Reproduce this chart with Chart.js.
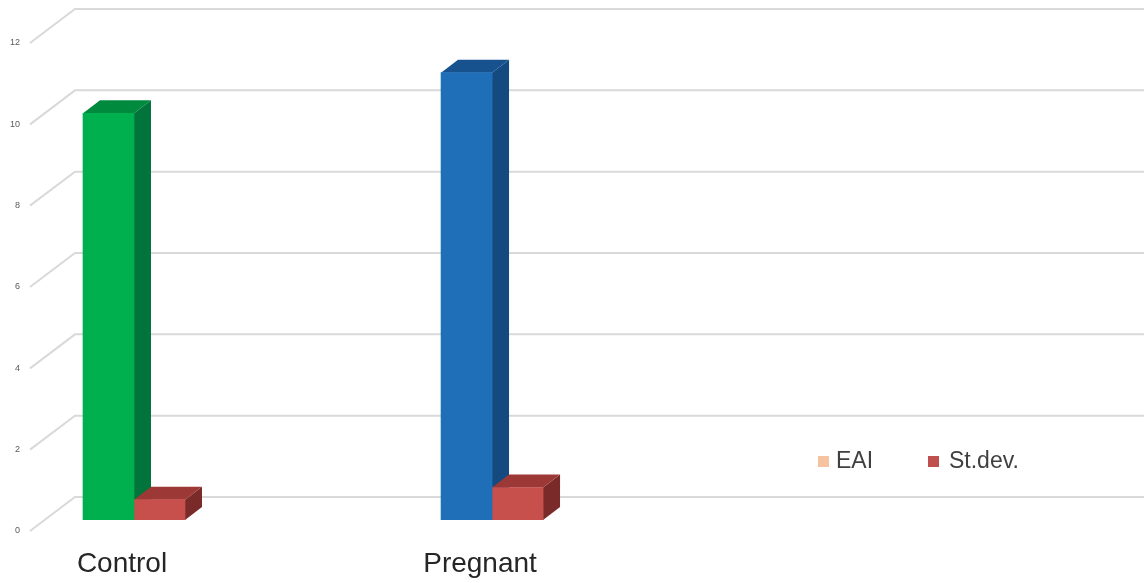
<!DOCTYPE html>
<html>
<head>
<meta charset="utf-8">
<script src="https://cdn.jsdelivr.net/npm/chart.js@4"></script>
<style>
    html, body { margin: 0; padding: 0; background: #fff; }
    canvas { display: block; }
</style>
</head>
<body>
<canvas id="chart" width="1144" height="583"></canvas>
<script>
const categories = ['Control', 'Pregnant'];
const eaiValues = [10, 11];
const stdevValues = [0.5, 0.8];
const seriesNames = ['EAI', 'St.dev.'];
const yMin = 0;
const yMax = 12;
const yStep = 2;

// bar depth and wall perspective, in pixels
const BAR_DX = 17, BAR_DY = 13;
const WALL_DX = 45, WALL_FRONT = 11, WALL_BACK = 23;

const depthPlugin = {
    id: 'depth',
    beforeDatasetsDraw(chart) {
        const ctx = chart.ctx;
        const area = chart.chartArea;
        const yScale = chart.scales.y;
        ctx.save();
        // back wall gridlines with the slanted side wall
        ctx.strokeStyle = '#d9d9d9';
        ctx.lineWidth = 2;
        yScale.ticks.forEach(t => {
            const yf = yScale.getPixelForValue(t.value);
            ctx.beginPath();
            ctx.moveTo(area.left, yf + WALL_FRONT);
            ctx.lineTo(area.left + WALL_DX, yf - WALL_BACK);
            ctx.lineTo(chart.width, yf - WALL_BACK);
            ctx.stroke();
        });
        // top and side faces, drawn before the fronts
        chart.data.datasets.forEach((ds, d) => {
            const meta = chart.getDatasetMeta(d);
            meta.data.forEach((bar, i) => {
                const p = bar.getProps(['x', 'y', 'base', 'width'], true);
                const l = p.x - p.width / 2, r = p.x + p.width / 2;
                const top = Array.isArray(ds.topColor) ? ds.topColor[i] : ds.topColor;
                const side = Array.isArray(ds.sideColor) ? ds.sideColor[i] : ds.sideColor;
                ctx.fillStyle = side;
                ctx.beginPath();
                ctx.moveTo(r, p.y);
                ctx.lineTo(r + BAR_DX, p.y - BAR_DY);
                ctx.lineTo(r + BAR_DX, p.base - BAR_DY);
                ctx.lineTo(r, p.base);
                ctx.closePath();
                ctx.fill();
                ctx.fillStyle = top;
                ctx.beginPath();
                ctx.moveTo(l, p.y);
                ctx.lineTo(l + BAR_DX, p.y - BAR_DY);
                ctx.lineTo(r + BAR_DX, p.y - BAR_DY);
                ctx.lineTo(r, p.y);
                ctx.closePath();
                ctx.fill();
            });
        });
        ctx.restore();
    },
    afterDraw(chart) {
        // legend sitting inside the plot, lower right
        const ctx = chart.ctx;
        const boxColors = ['#f5c3a0', '#c0504d'];
        const boxX = [818, 928];
        const textX = [836, 949];
        ctx.save();
        ctx.font = '23px "Liberation Sans", Arial, sans-serif';
        ctx.textBaseline = 'middle';
        chart.data.datasets.forEach((ds, d) => {
            ctx.fillStyle = boxColors[d];
            ctx.fillRect(boxX[d], 456, 11, 11);
            ctx.fillStyle = '#404040';
            ctx.fillText(ds.label, textX[d], 462);
        });
        ctx.restore();
    }
};

new Chart(document.getElementById('chart'), {
    type: 'bar',
    data: {
        datasets: [{
            label: seriesNames[0],
            data: eaiValues.map((v, i) => ({ x: i, y: v })),
            backgroundColor: ['#00b04f', '#1f6eb8'],
            topColor: ['#008a3e', '#17528e'],
            sideColor: ['#00743a', '#154a80']
        }, {
            label: seriesNames[1],
            data: stdevValues.map((v, i) => ({ x: i, y: v })),
            backgroundColor: '#c8504c',
            topColor: '#9c3936',
            sideColor: '#7a2b29'
        }]
    },
    options: {
        responsive: false,
        animation: false,
        barThickness: 51,
        layout: { padding: { top: 32, right: 0, left: 0, bottom: 0 } },
        plugins: {
            legend: { display: false },
            tooltip: { enabled: false }
        },
        scales: {
            x: {
                type: 'linear',
                min: -0.2905,
                max: 2.821,
                offset: false,
                grid: { display: false, drawTicks: false, offset: false },
                border: { display: false },
                afterFit: scale => { scale.height = 63; },
                ticks: {
                    stepSize: 1,
                    includeBounds: false,
                    autoSkip: false,
                    maxRotation: 0,
                    padding: 27,
                    labelOffset: -12,
                    color: '#262626',
                    font: { family: '"Liberation Sans", Arial, sans-serif', size: 28 },
                    callback: v => categories[v] || ''
                }
            },
            y: {
                min: yMin,
                max: yMax,
                grid: { display: false, drawTicks: false },
                border: { display: false },
                afterFit: scale => { scale.width = 30; },
                ticks: {
                    stepSize: yStep,
                    padding: 10,
                    labelOffset: WALL_FRONT,
                    color: '#595959',
                    font: { family: '"Liberation Sans", Arial, sans-serif', size: 9 }
                }
            }
        }
    },
    plugins: [depthPlugin]
});
</script>
</body>
</html>
